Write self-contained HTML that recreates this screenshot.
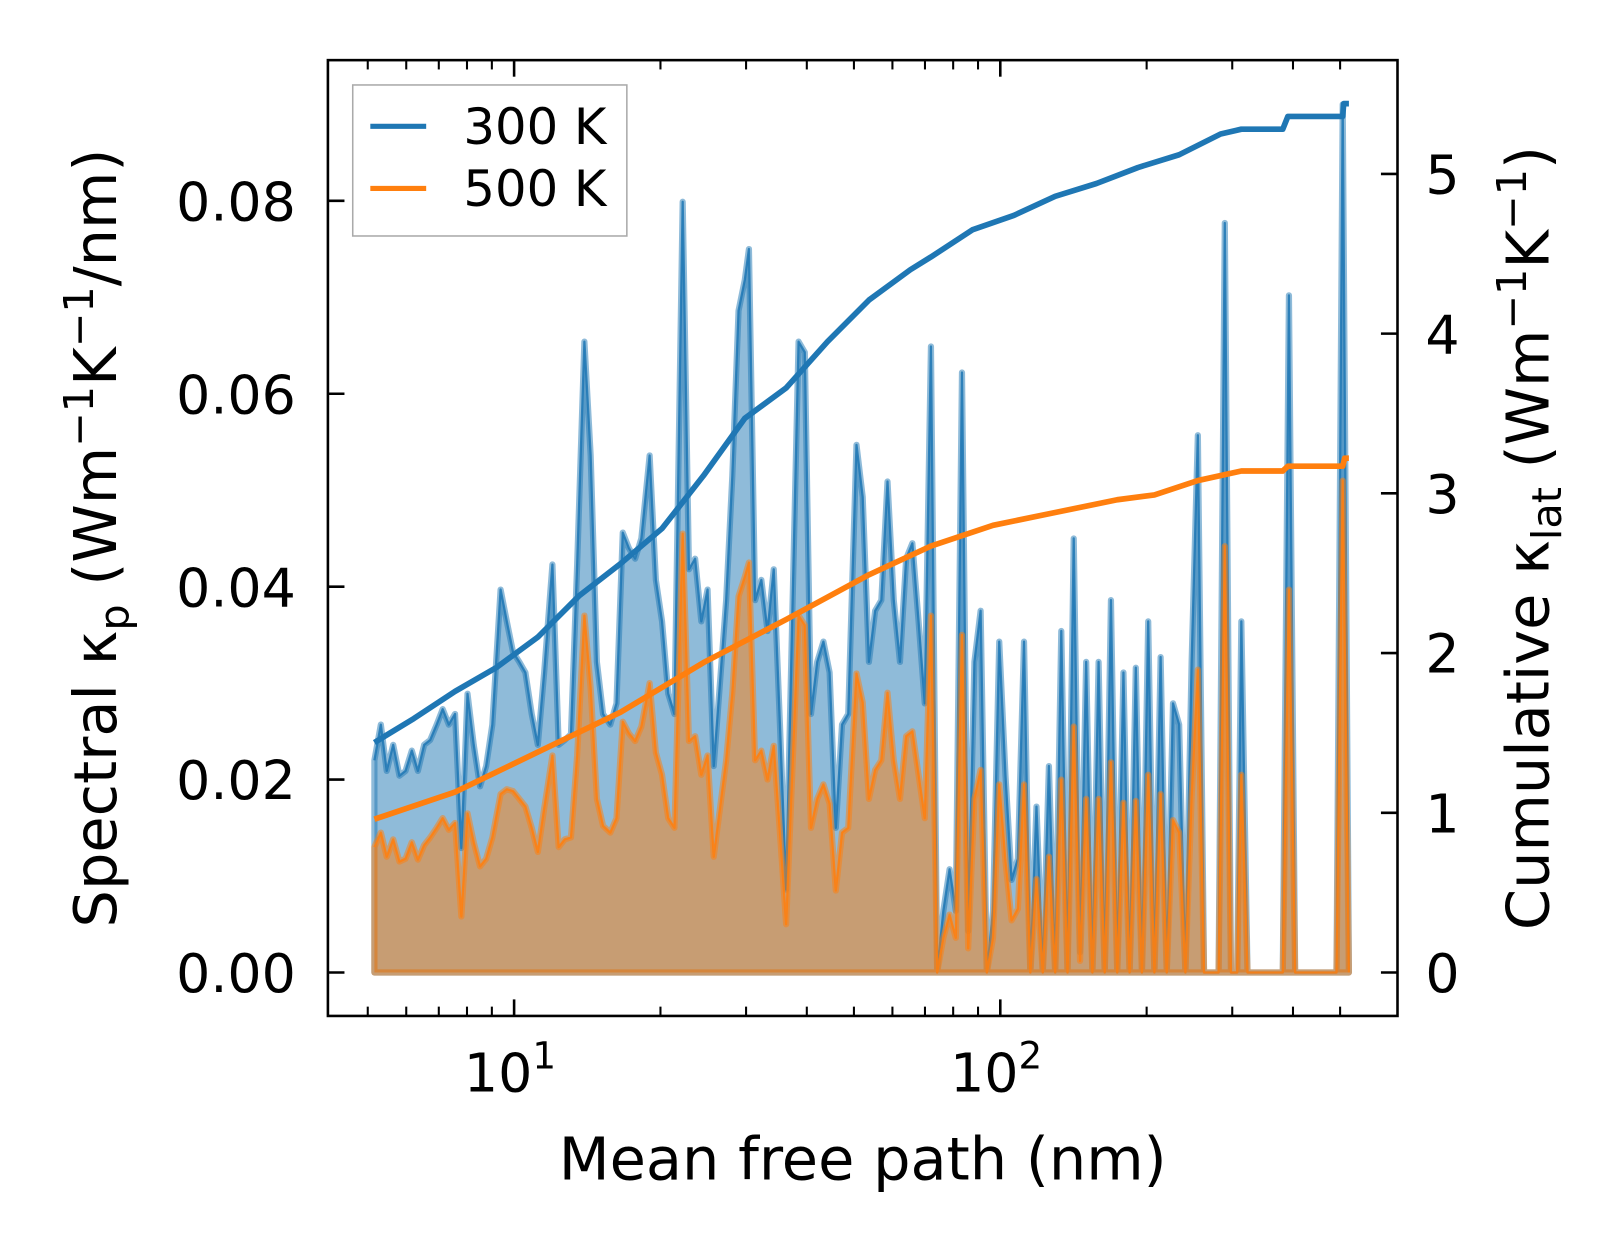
<!DOCTYPE html>
<html><head><meta charset="utf-8">
<style>
html,body{margin:0;padding:0;background:#fff;overflow:hidden;}
svg{display:block;font-family:"DejaVu Sans","Liberation Sans",sans-serif;}
</style></head>
<body>
<svg id="chart" width="1623" height="1254" viewBox="0 0 1569 1212" xmlns="http://www.w3.org/2000/svg">
<g id="plot"></g>
<g id="axes"></g>
<text x="834" y="1140" font-size="57" text-anchor="middle">Mean free path (nm)</text>
<text transform="translate(112,520) rotate(-90)" font-size="57" text-anchor="middle">Spectral κ<tspan dy="12" font-size="40">p</tspan><tspan dy="-12"> (Wm</tspan><tspan dy="-22" font-size="40">−1</tspan><tspan dy="22">K</tspan><tspan dy="-22" font-size="40">−1</tspan><tspan dy="22">/nm)</tspan></text>
<text transform="translate(1497,520) rotate(-90)" font-size="57" text-anchor="middle">Cumulative κ<tspan dy="12" font-size="40">lat</tspan><tspan dy="-12"> (Wm</tspan><tspan dy="-22" font-size="40">−1</tspan><tspan dy="22">K</tspan><tspan dy="-22" font-size="40">−1</tspan><tspan dy="22">)</tspan></text>
<g>
<rect x="341" y="82" width="265" height="146" fill="rgba(255,255,255,0.8)" stroke="#aaa" stroke-width="1.5"/>
<line x1="358" y1="122" x2="412" y2="122" stroke="#1f77b4" stroke-width="5"/>
<text x="448" y="139" font-size="48">300 K</text>
<line x1="358" y1="182" x2="412" y2="182" stroke="#ff7f0e" stroke-width="5"/>
<text x="448" y="199" font-size="48">500 K</text>
</g>
</svg>
<script>
const mfp = [5.16,5.32,5.47,5.64,5.81,5.98,6.16,6.34,6.53,6.72,6.93,7.13,7.34,7.56,7.79,8.02,8.26,8.51,8.76,9.02,9.38,9.66,9.95,10.25,10.55,10.87,11.19,11.53,11.99,12.35,12.71,13.09,13.48,13.95,14.37,14.80,15.24,15.77,16.24,16.73,17.22,17.74,18.27,19.00,19.57,20.15,20.75,21.37,22.22,22.89,23.57,24.27,25.00,25.74,26.51,27.30,28.11,28.95,29.82,30.41,31.31,32.25,33.21,34.20,35.22,36.27,37.36,38.47,39.62,40.80,42.02,43.27,44.56,45.89,47.26,48.67,50.61,52.12,53.68,55.28,56.93,58.62,60.38,62.18,64.03,65.94,67.91,69.93,72.01,74.16,76.37,78.65,81.00,83.41,85.90,88.47,91.11,93.83,96.63,99.51,102.5,105.5,108.7,111.9,115.3,118.7,122.3,125.9,129.7,133.5,137.5,141.6,145.9,150.2,154.7,159.3,164.0,168.9,174.0,179.2,184.5,190.0,195.6,201.5,207.5,213.7,220.0,226.6,233.3,240.3,247.5,254.9,262.5,273.0,281.2,289.6,298.2,307.1,313.2,322.5,381.1,392.4,404.1,491.5,506.2,521.3];
const spec300 = [0.0220,0.0257,0.0209,0.0236,0.0204,0.0209,0.0230,0.0209,0.0236,0.0241,0.0257,0.0273,0.0257,0.0268,0.0129,0.0289,0.0236,0.0193,0.0214,0.0257,0.0397,0.0364,0.0332,0.0322,0.0311,0.0268,0.0236,0.0311,0.0423,0.0236,0.0241,0.0247,0.0423,0.0654,0.0536,0.0322,0.0268,0.0257,0.0279,0.0456,0.0440,0.0429,0.0450,0.0536,0.0407,0.0364,0.0289,0.0268,0.0799,0.0418,0.0429,0.0364,0.0397,0.0214,0.0300,0.0386,0.0515,0.0686,0.0718,0.0750,0.0386,0.0407,0.0354,0.0418,0.0257,0.0086,0.0375,0.0654,0.0643,0.0268,0.0322,0.0343,0.0311,0.0150,0.0257,0.0268,0.0547,0.0493,0.0322,0.0375,0.0386,0.0509,0.0386,0.0322,0.0429,0.0445,0.0364,0.0279,0.0649,0.0,0.0064,0.0107,0.0064,0.0622,0.0043,0.0322,0.0375,0.0,0.0064,0.0343,0.0204,0.0096,0.0118,0.0343,0.0,0.0172,0.0,0.0214,0.0,0.0354,0.0,0.0450,0.0021,0.0322,0.0,0.0322,0.0,0.0386,0.0,0.0311,0.0,0.0316,0.0,0.0364,0.0,0.0327,0.0,0.0279,0.0257,0.0,0.0322,0.0557,0.0,0.0,0.0,0.0777,0.0,0.0,0.0364,0.0,0.0,0.0702,0.0,0.0,0.0900,0.0];
const spec500 = [0.0130,0.0145,0.0120,0.0138,0.0115,0.0118,0.0135,0.0117,0.0132,0.0140,0.0150,0.0160,0.0148,0.0155,0.0058,0.0165,0.0135,0.0110,0.0118,0.0140,0.0185,0.0190,0.0188,0.0180,0.0172,0.0150,0.0125,0.0170,0.0225,0.0130,0.0138,0.0140,0.0225,0.0370,0.0295,0.0180,0.0152,0.0145,0.0160,0.0260,0.0248,0.0240,0.0255,0.0300,0.0228,0.0205,0.0160,0.0150,0.0455,0.0240,0.0245,0.0205,0.0225,0.0120,0.0170,0.0220,0.0290,0.0390,0.0410,0.0425,0.0220,0.0230,0.0200,0.0235,0.0145,0.0050,0.0210,0.0370,0.0360,0.0150,0.0180,0.0195,0.0175,0.0085,0.0145,0.0150,0.0310,0.0280,0.0180,0.0210,0.0220,0.0290,0.0220,0.0180,0.0245,0.0250,0.0205,0.0160,0.0370,0.0,0.0036,0.0060,0.0036,0.0350,0.0025,0.0180,0.0210,0.0,0.0036,0.0195,0.0115,0.0054,0.0066,0.0195,0.0,0.0097,0.0,0.0120,0.0,0.0200,0.0,0.0255,0.0012,0.0180,0.0,0.0180,0.0,0.0218,0.0,0.0176,0.0,0.0178,0.0,0.0205,0.0,0.0185,0.0,0.0158,0.0145,0.0,0.0182,0.0314,0.0,0.0,0.0,0.0442,0.0,0.0,0.0205,0.0,0.0,0.0397,0.0,0.0,0.0510,0.0];
const cumMfp300 = [5.16,6.22,7.56,9.20,11.19,13.62,16.56,20.15,24.51,29.82,36.27,44.12,53.68,65.30,72.01,87.61,106.6,129.7,157.7,191.9,233.3,283.9,313.2,381.1,390.4,506.2,508.5,521.3];
const cum300 = [1.44,1.59,1.76,1.91,2.10,2.36,2.56,2.78,3.11,3.47,3.66,3.95,4.21,4.40,4.48,4.65,4.74,4.86,4.94,5.04,5.12,5.25,5.28,5.28,5.36,5.36,5.44,5.44];
const cumMfp500 = [5.16,7.56,11.19,16.56,24.51,36.27,53.68,72.01,96.63,129.7,174.0,207.5,254.9,313.2,381.1,390.4,506.2,511.0,521.3];
const cum500 = [0.96,1.13,1.38,1.63,1.94,2.21,2.49,2.67,2.80,2.88,2.96,2.99,3.08,3.14,3.14,3.17,3.17,3.22,3.22];
const leftTicks = [0,0.02,0.04,0.06,0.08];
const leftTickLabels = ["0.00","0.02","0.04","0.06","0.08"];
const rightTicks = [0,1,2,3,4,5];

const NS="http://www.w3.org/2000/svg";
const L=317,R=1351,T=58,B=982;
const X=v=>497+470*(Math.log10(v)-1);
const YL=v=>940-v*9325;
const YR=v=>940-v*154.4;
const plot=document.getElementById('plot'), axes=document.getElementById('axes');
function mk(tag,attrs,parent){const e=document.createElementNS(NS,tag);for(const k in attrs)e.setAttribute(k,attrs[k]);parent.appendChild(e);return e;}

function fillPath(vals){let d=`M${X(mfp[0])},${YL(0)}`;mfp.forEach((m,i)=>{d+=` L${X(m)},${YL(vals[i])}`;});d+=` L${X(mfp[mfp.length-1])},${YL(0)} Z`;return d;}
function linePath(xs,ys,f){return xs.map((m,i)=>(i?'L':'M')+X(m)+','+f(ys[i])).join(' ');}

const f300=mk('path',{d:fillPath(spec300),fill:'rgba(31,119,180,0.5)',stroke:'rgba(31,119,180,0.5)','stroke-width':6,'stroke-linejoin':'round'},plot);


const l300=mk('path',{d:linePath(mfp,spec300,YL),fill:'none',stroke:'rgba(31,119,180,0.85)','stroke-width':2.2,'stroke-linejoin':'round'},plot);


const f500=mk('path',{d:fillPath(spec500),fill:'rgba(255,127,14,0.5)',stroke:'rgba(255,127,14,0.5)','stroke-width':6,'stroke-linejoin':'round'},plot);


const l500=mk('path',{d:linePath(mfp,spec500,YL),fill:'none',stroke:'rgba(255,127,14,0.85)','stroke-width':2.2,'stroke-linejoin':'round'},plot);


const c300=mk('path',{d:linePath(cumMfp300,cum300,YR),fill:'none',stroke:'#1f77b4','stroke-width':5.5,'stroke-linejoin':'round'},plot);


const c500=mk('path',{d:linePath(cumMfp500,cum500,YR),fill:'none',stroke:'#ff7f0e','stroke-width':5.5,'stroke-linejoin':'round'},plot);



const fr=mk('rect',{x:L,y:T,width:R-L,height:B-T,fill:'none',stroke:'#000','stroke-width':2.5},axes);


const minors=[5,6,7,8,9,20,30,40,50,60,70,80,90,200,300,400,500];
minors.forEach(v=>{const x=X(v);mk('line',{x1:x,x2:x,y1:B,y2:B-9,stroke:'#000','stroke-width':2},axes);mk('line',{x1:x,x2:x,y1:T,y2:T+9,stroke:'#000','stroke-width':2},axes);});
[10,100].forEach((v,i)=>{const x=X(v);mk('line',{x1:x,x2:x,y1:B,y2:B-16,stroke:'#000','stroke-width':2.5},axes);mk('line',{x1:x,x2:x,y1:T,y2:T+16,stroke:'#000','stroke-width':2.5},axes);
 const t=mk('text',{x:x-4,y:1055,'font-size':52,'text-anchor':'middle'},axes);
 
 
 t.innerHTML='10<tspan dy="-22" font-size="36">'+(i+1)+'</tspan>';});
leftTicks.forEach((v,i)=>{const y=YL(v);mk('line',{x1:L,x2:L+16,y1:y,y2:y,stroke:'#000','stroke-width':2.5},axes);
 const t=mk('text',{x:286,y:y+19,'font-size':52,'text-anchor':'end'},axes);
 
 
 t.textContent=leftTickLabels[i];});
rightTicks.forEach(v=>{const y=YR(v);mk('line',{x1:R,x2:R-16,y1:y,y2:y,stroke:'#000','stroke-width':2.5},axes);
 const t=mk('text',{x:1378,y:y+19,'font-size':52,'text-anchor':'start'},axes);
 
 
 t.textContent=String(v);});
</script>
</body></html>
